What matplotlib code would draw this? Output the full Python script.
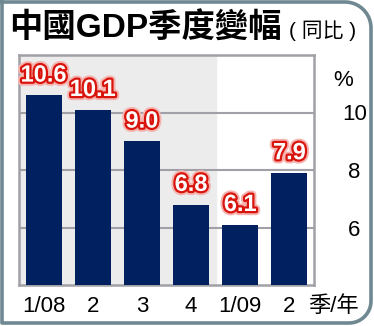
import numpy as np
import matplotlib.pyplot as plt
import matplotlib.patheffects as pe
from matplotlib.lines import Line2D

plt.rcParams['font.family'] = ['Liberation Sans', 'Noto Sans CJK TC', 'DejaVu Sans']

# data
quarters = ['1/08', '2', '3', '4', '1/09', '2']
growth = [10.6, 10.1, 9.0, 6.8, 6.1, 7.9]
yticks = [6, 8, 10]

W, H = 374, 326
fig = plt.figure(figsize=(W / 100, H / 100), dpi=100)
fig.patch.set_facecolor('white')

# outer frame, rounded on the right side
def frame_path():
    r1, r2 = 26, 22
    x0, y0, x1, y1 = 2, 2, W - 3, H - 3  # pixel coords, y down
    pts = [(x0, y0), (x1 - r1, y0)]
    a = np.linspace(-np.pi / 2, 0, 20)
    pts += list(zip(x1 - r1 + r1 * np.cos(a), y0 + r1 + r1 * np.sin(a)))
    pts += [(x1, y1 - r2)]
    a = np.linspace(0, np.pi / 2, 20)
    pts += list(zip(x1 - r2 + r2 * np.cos(a), y1 - r2 + r2 * np.sin(a)))
    pts += [(x0, y1), (x0, y0)]
    xs = [p[0] / W for p in pts]
    ys = [1 - p[1] / H for p in pts]
    return xs, ys

fx, fy = frame_path()
fig.add_artist(Line2D(fx, fy, transform=fig.transFigure, color='#6f8891', lw=2.6,
                      solid_joinstyle='round'))

fig.text(9 / W, 1 - 29 / H, '中國GDP季度變幅', fontsize=24, fontweight='heavy',
         family=['Liberation Sans', 'Noto Sans CJK TC'], va='center', ha='left')
fig.text(289 / W, 1 - 31 / H, '( 同比 )', fontsize=15,
         family=['Liberation Sans', 'Noto Sans CJK TC'], va='center', ha='left')

ax = fig.add_axes([19 / W, (H - 285) / H, 295 / W, 230 / H])
x = np.arange(len(growth))
ax.axvspan(-0.5, 3.5, color='#ececec', zorder=0)
ax.bar(x, growth, width=0.73, color='#00205f', zorder=3)
ax.set_xlim(-0.5, 5.5)
ax.set_ylim(4, 12)

for v in yticks:
    ax.axhline(v, color='#a0a0a6', lw=1.5, zorder=1)

for sp in ax.spines.values():
    sp.set_color('#a0a0a6')
    sp.set_linewidth(1.8)

ax.set_xticks(x)
ax.set_xticklabels(quarters, fontsize=16)
ax.set_yticks(yticks)
ax.set_yticklabels([str(v) for v in yticks], fontsize=16)
ax.yaxis.tick_right()
ax.tick_params(length=0)
ax.tick_params(axis='x', pad=8)
ax.tick_params(axis='y', pad=29)
for lab in ax.get_yticklabels():
    lab.set_ha('center')

ax.text(1.098, 11.12, '%', transform=ax.get_yaxis_transform(), fontsize=16,
        ha='center', va='center')
ax.annotate('季/年', xy=(5.89, 0), xycoords=('data', 'axes fraction'),
            xytext=(0, -8), textcoords='offset points', fontsize=16,
            ha='center', va='top', annotation_clip=False)

glow = [pe.Stroke(linewidth=6, foreground='#f6b4b0'),
        pe.Stroke(linewidth=3.2, foreground='#d8140c'),
        pe.Normal()]
for xi, v in zip(x, growth):
    ax.text(xi, v + 0.3, f'{v:.1f}', color='white', fontsize=17, fontweight='bold',
            ha='center', va='bottom', path_effects=glow, zorder=5)

fig.savefig('out.png', dpi=100)
